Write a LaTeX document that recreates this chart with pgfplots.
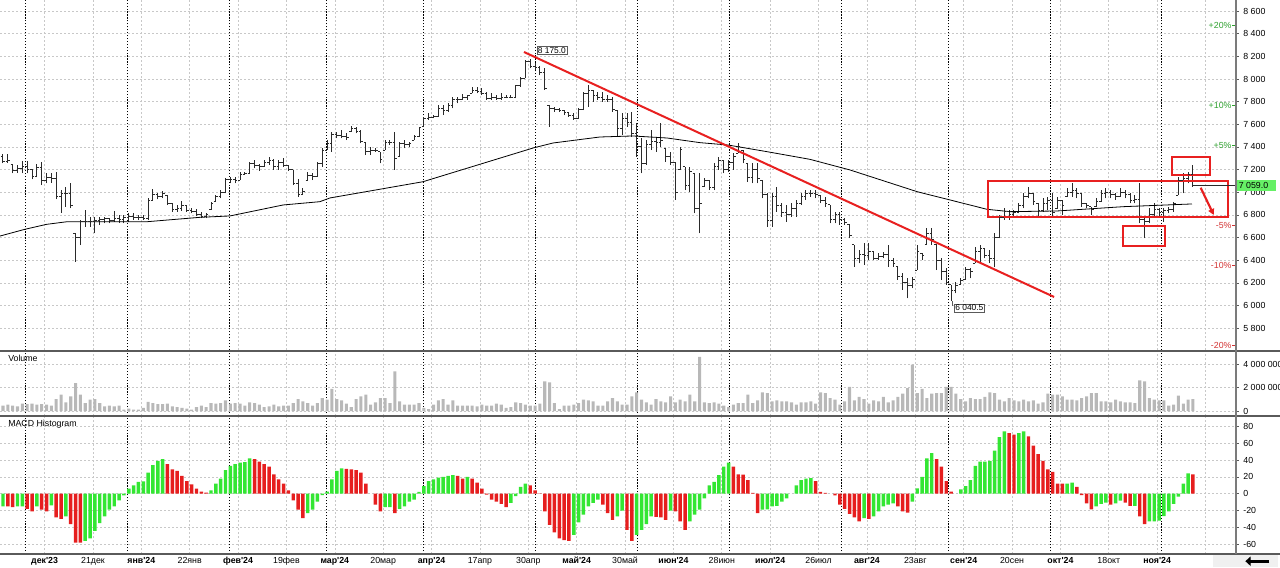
\documentclass[border=0pt]{standalone}
\usepackage{pgfplots}
\pgfplotsset{compat=1.18}
\usepackage{pgfplotstable}
\usepackage{fontspec}
\setmainfont{Liberation Sans}
\usetikzlibrary{arrows.meta}

\definecolor{mgreen}{HTML}{33E633}
\definecolor{mred}{HTML}{E61E1E}
\definecolor{vgray}{HTML}{B8B8B8}
\definecolor{gridc}{HTML}{C8C8C8}
\definecolor{pctg}{HTML}{2EA02E}
\definecolor{pctr}{HTML}{D23232}
\definecolor{trend}{HTML}{E82020}
\definecolor{lastg}{HTML}{66F066}
\definecolor{barc}{HTML}{2A2A2A}
\definecolor{sepc}{HTML}{5A5A5A}

\newcommand{\tf}{\fontsize{6.6}{7.5}\selectfont}
\newcommand{\q}{\textquotesingle}
\newcommand{\pctlabel}[3]{%
  \draw[#3, line width=0.5pt] ([xshift=-3pt]axis cs:254.9,#1) -- (axis cs:254.9,#1);
  \node[text=#3, anchor=east, inner sep=0pt, font=\tf] at ([xshift=-3.2pt]axis cs:254.9,#1) {#2};}

\pgfdeclareplotmark{otick}{\pgfpathmoveto{\pgfqpoint{-1.6pt}{0pt}}\pgfpathlineto{\pgfqpoint{0pt}{0pt}}\pgfusepathqstroke}
\pgfdeclareplotmark{ctick}{\pgfpathmoveto{\pgfqpoint{0pt}{0pt}}\pgfpathlineto{\pgfqpoint{1.6pt}{0pt}}\pgfusepathqstroke}

\pgfplotsset{
  panel/.style={scale only axis, width=927pt, xmin=-0.62, xmax=254.9,
    axis line style={draw=none}, clip=false,
    xtick={8.6,18.6,...,248.6}, xmajorgrids, ymajorgrids,
    grid style={gridc, line width=0.5pt, dash pattern=on 1.5pt off 1.5pt},
    extra x ticks={4.69,25.78,46.79,66.78,86.89,109.99,131.07,150.16,173.39,195.43,216.52,239.41},
    extra x tick labels={},
    extra x tick style={major grid style={black, line width=0.6pt, dash pattern=on 0.9pt off 1.3pt}},
    xtick style={draw=none},
    ytick pos=right, yticklabel pos=right, ytick align=outside,
    major tick length=2pt, ytick style={draw=sepc, line width=0.5pt},
    tick label style={font=\tf},
    /pgf/number format/assume math mode=true,
    /pgf/number format/1000 sep={\ },
  }
}

\pgfplotstableread{
i o h l c
0 7320 7337 7255 7270
1 7270 7337 7261 7280
2 7249 7249 7167 7190
3 7190 7240 7173 7210
4 7210 7279 7167 7230
5 7230 7279 7167 7200
6 7200 7202 7114 7140
7 7140 7249 7131 7220
8 7220 7270 7064 7100
9 7100 7167 7079 7130
10 7130 7167 7084 7120
11 7120 7182 6937 6960
12 6960 7020 6820 6990
13 6990 7049 6873 6990
14 6990 7079 6858 6880
15 6637 6637 6387 6600
16 6600 6755 6534 6740
17 6740 6843 6696 6740
18 6740 6784 6696 6740
19 6740 6784 6637 6750
20 6750 6784 6711 6760
21 6760 6784 6725 6770
22 6770 6770 6725 6750
23 6750 6837 6740 6770
24 6770 6799 6731 6760
25 6760 6799 6725 6780
26 6780 6814 6740 6790
27 6790 6814 6755 6780
28 6780 6799 6755 6780
29 6780 6799 6755 6770
30 6770 6946 6755 6930
31 6931 7026 6931 6980
32 6980 6990 6937 6960
33 6960 7014 6946 6990
34 6976 6976 6887 6900
35 6900 6902 6828 6850
36 6850 6887 6828 6860
37 6860 6926 6837 6880
38 6880 6887 6828 6840
39 6840 6858 6814 6830
40 6830 6849 6790 6800
41 6800 6828 6770 6790
42 6790 6820 6770 6800
43 6844 6917 6844 6900
44 6917 6976 6917 6960
45 6960 7020 6946 7000
46 7000 7123 6991 7110
47 7110 7138 7079 7110
48 7110 7132 7079 7100
49 7108 7182 7108 7160
50 7160 7182 7153 7170
51 7170 7270 7167 7250
52 7250 7285 7211 7240
53 7240 7247 7191 7230
54 7230 7285 7226 7260
55 7260 7308 7241 7280
56 7280 7291 7197 7230
57 7230 7285 7197 7260
58 7260 7300 7226 7240
59 7240 7241 7191 7200
60 7197 7197 7064 7080
61 7080 7114 6961 6980
62 6980 7035 6976 7010
63 7108 7182 7108 7150
64 7150 7167 7108 7140
65 7140 7270 7138 7250
66 7250 7388 7226 7370
67 7373 7461 7373 7430
68 7430 7535 7358 7510
69 7510 7535 7476 7500
70 7500 7550 7476 7490
71 7490 7520 7461 7480
72 7535 7585 7535 7560
73 7560 7579 7520 7540
74 7540 7550 7432 7450
75 7438 7438 7329 7360
76 7360 7403 7329 7370
77 7370 7388 7358 7370
78 7358 7358 7256 7290
79 7373 7461 7373 7440
80 7440 7461 7417 7440
81 7440 7535 7197 7300
82 7314 7447 7314 7430
83 7430 7461 7388 7420
84 7420 7447 7403 7430
85 7461 7506 7461 7490
86 7491 7579 7491 7570
87 7579 7667 7579 7650
88 7650 7697 7638 7660
89 7660 7682 7653 7670
90 7670 7770 7667 7740
91 7740 7770 7682 7720
92 7720 7785 7712 7770
93 7770 7844 7741 7820
94 7820 7844 7785 7820
95 7820 7865 7815 7840
96 7840 7859 7815 7850
97 7873 7932 7873 7900
98 7900 7932 7873 7890
99 7890 7918 7859 7870
100 7870 7888 7815 7830
101 7830 7873 7815 7840
102 7840 7859 7815 7830
103 7830 7873 7815 7840
104 7840 7859 7829 7840
105 7840 7859 7829 7835
106 7835 7947 7829 7940
107 7940 8020 7932 8000
108 8006 8168 8006 8150
109 8150 8175 8094 8110
110 8110 8138 8079 8100
111 8100 8118 8035 8060
112 8060 8094 7903 7920
113 7770 7770 7579 7740
114 7740 7756 7712 7730
115 7730 7741 7712 7725
116 7725 7726 7682 7700
117 7700 7712 7667 7680
118 7680 7697 7638 7650
119 7653 7741 7653 7730
120 7730 7888 7726 7870
121 7870 7947 7756 7900
122 7900 7903 7800 7850
123 7850 7888 7815 7840
124 7840 7888 7800 7820
125 7820 7859 7800 7820
126 7820 7844 7712 7730
127 7726 7726 7491 7560
128 7560 7697 7506 7650
129 7650 7697 7579 7620
130 7620 7712 7491 7520
131 7520 7609 7314 7400
132 7400 7476 7167 7250
133 7250 7461 7241 7420
134 7420 7550 7373 7450
135 7450 7491 7358 7440
136 7440 7609 7403 7460
137 7388 7388 7270 7320
138 7320 7358 7241 7260
139 7260 7270 6932 7000
140 7197 7403 7197 7380
141 7226 7226 7020 7060
142 7060 7226 7005 7180
143 7167 7167 6814 6860
144 6860 7167 6638 6900
145 7050 7123 7050 7100
146 7100 7108 7020 7040
147 7040 7256 7020 7230
148 7230 7314 7197 7280
149 7280 7285 7167 7200
150 7200 7285 7182 7260
151 7260 7344 7197 7320
152 7344 7432 7344 7400
153 7373 7373 7256 7290
154 7256 7256 7094 7130
155 7130 7256 7079 7200
156 7200 7256 7079 7120
157 7108 7108 6947 6980
158 6980 6991 6697 6750
159 6750 6991 6697 6960
160 6960 7050 6829 6880
161 6880 6902 6785 6820
162 6820 6888 6741 6800
163 6800 6902 6785 6860
164 6860 6932 6785 6900
165 6900 6991 6888 6960
166 6960 7020 6932 6990
167 6990 7020 6961 6990
168 6990 7020 6947 6980
169 6976 6976 6903 6930
170 6930 6962 6873 6900
171 6888 6888 6726 6760
172 6760 6829 6726 6800
173 6800 6829 6712 6760
174 6760 6770 6712 6730
175 6712 6712 6594 6620
176 6535 6535 6344 6420
177 6420 6491 6373 6450
178 6450 6550 6359 6440
179 6440 6550 6403 6480
180 6476 6476 6403 6420
181 6420 6462 6403 6430
182 6430 6476 6417 6450
183 6450 6535 6344 6400
184 6400 6417 6344 6370
185 6344 6344 6226 6260
186 6260 6285 6138 6200
187 6200 6241 6064 6180
188 6180 6256 6153 6230
189 6314 6535 6314 6480
190 6462 6462 6403 6440
191 6535 6682 6535 6640
192 6640 6682 6535 6580
193 6535 6535 6314 6400
194 6400 6417 6226 6300
195 6300 6329 6182 6200
196 6182 6182 6040 6130
197 6130 6211 6108 6180
198 6182 6241 6182 6220
199 6226 6344 6226 6320
200 6320 6329 6241 6300
201 6373 6520 6373 6480
202 6480 6535 6388 6500
203 6500 6506 6417 6440
204 6440 6491 6373 6420
205 6420 6640 6340 6600
206 6600 6800 6594 6780
207 6780 6858 6756 6830
208 6830 6844 6756 6800
209 6800 6844 6785 6820
210 6820 6902 6814 6880
211 6880 6991 6858 6960
212 6960 7049 6946 6990
213 6990 6991 6888 6920
214 6902 6902 6785 6840
215 6840 6946 6829 6900
216 6900 6961 6843 6930
217 6930 6991 6785 6820
218 6858 6961 6858 6930
219 6930 6932 6799 6880
220 6961 7035 6961 7000
221 7000 7079 6961 7020
222 7020 7035 6946 6990
223 6990 6991 6873 6900
224 6900 6902 6858 6880
225 6873 6873 6799 6850
226 6873 6946 6873 6920
227 6920 7020 6917 6990
228 6990 7035 6946 7000
229 7000 7020 6946 6980
230 6980 6991 6932 6960
231 6961 7035 6961 7000
232 7000 7020 6946 6980
233 6980 6991 6902 6930
234 6930 6976 6902 6940
235 6940 7079 6726 6760
236 6760 6785 6593 6740
237 6740 6858 6726 6800
238 6800 6902 6785 6850
239 6850 6858 6785 6820
240 6820 6858 6740 6840
241 6840 6873 6814 6850
242 6850 6917 6829 6900
243 6976 7138 6976 7100
244 7100 7167 6991 7120
245 7120 7182 7079 7160
246 7160 7245 7050 7059
}\pricetab

\pgfplotstableread{
i v m g
0 0.46 -15 1
1 0.55 -15 0
2 0.46 -16 0
3 0.40 -15 1
4 0.63 -15 1
5 0.60 -18 0
6 0.63 -21 0
7 0.55 -15 1
8 0.60 -19 0
9 0.55 -21 0
10 0.46 -14 1
11 1.03 -28 0
12 1.41 -30 0
13 0.75 -27 1
14 1.26 -36 0
15 2.41 -58 0
16 1.41 -58 0
17 0.69 -56 1
18 0.98 -53 1
19 1.03 -44 1
20 0.69 -35 1
21 0.40 -27 1
22 0.46 -19 1
23 0.40 -15 1
24 0.46 -8 1
25 0.11 -2 1
26 0.20 6 1
27 0.11 10 1
28 0.11 14 1
29 0.26 14.5 1
30 0.78 25 1
31 0.69 34 1
32 0.60 39 1
33 0.60 41 1
34 0.63 35 0
35 0.40 29 0
36 0.34 27 0
37 0.26 21 0
38 0.20 15 0
39 0.11 11 0
40 0.34 6 0
41 0.46 2.4 0
42 0.34 1.2 0
43 0.69 4 1
44 0.63 12 1
45 0.69 18 1
46 0.92 28 1
47 0.63 33 1
48 0.69 35 1
49 0.63 37 1
50 0.46 37.5 1
51 0.75 42 1
52 0.69 41 0
53 0.55 38 0
54 0.34 35 0
55 0.40 32 0
56 0.55 23 0
57 0.40 17 0
58 0.46 12 0
59 0.46 4 0
60 0.69 -8 0
61 1.03 -19 0
62 0.83 -29 0
63 0.69 -23 1
64 0.46 -19 1
65 0.69 -9.5 1
66 1.12 -1.6 1
67 0.98 2.4 1
68 1.90 17 1
69 1.03 27 1
70 0.92 30 1
71 0.63 29.5 0
72 0.34 29 0
73 1.03 28 0
74 1.26 25 0
75 1.41 12 0
76 0.55 0 2
77 0.75 -13 0
78 1.12 -21 0
79 1.12 -16 1
80 0.69 -16 1
81 3.42 -23 0
82 0.83 -18 1
83 0.55 -15 1
84 0.55 -9.5 1
85 0.55 -7 1
86 0.69 2 1
87 0.26 9 1
88 0.17 15 1
89 0.55 17 1
90 0.92 19 1
91 1.03 20 1
92 0.55 21 1
93 0.92 22 1
94 0.46 21 0
95 0.46 18 0
96 0.46 20 1
97 0.46 18 0
98 0.40 13 0
99 0.55 6 0
100 0.46 -1 0
101 0.46 -7 0
102 0.63 -9.5 0
103 0.55 -12 0
104 0.26 -16 0
105 0.34 -11 1
106 0.75 -3 1
107 0.69 8 1
108 0.55 12 1
109 0.46 10 0
110 0.46 4 0
111 0.63 0.5 0
112 2.56 -21 0
113 2.47 -37 0
114 0.69 -46 0
115 0.17 -53 0
116 0.46 -55 0
117 0.46 -56 0
118 0.55 -49 1
119 0.69 -34 1
120 0.98 -25 1
121 0.92 -15 1
122 0.83 -11 1
123 0.46 -7 1
124 0.46 -13 0
125 0.83 -23 0
126 1.12 -31 0
127 0.83 -27 1
128 0.55 -20 1
129 0.55 -43 0
130 1.26 -56 0
131 1.61 -49 1
132 0.98 -43 1
133 0.75 -36 1
134 0.55 -27 1
135 1.03 -27.5 0
136 0.83 -28 0
137 0.75 -31 0
138 1.26 -20 1
139 0.75 -21 0
140 0.98 -33 0
141 0.83 -43 0
142 1.41 -33 1
143 0.83 -25 1
144 4.66 -19 1
145 0.75 -5.5 1
146 0.69 10 1
147 0.75 14 1
148 0.63 22 1
149 0.46 32 1
150 0.34 37 1
151 0.55 32 0
152 0.69 23 0
153 0.69 22.5 0
154 1.41 16 0
155 0.69 1 0
156 0.92 -23 0
157 1.61 -19 1
158 1.55 -18.5 1
159 0.83 -15 1
160 0.92 -14.5 1
161 0.83 -9.5 1
162 0.83 -5.5 1
163 0.75 0 2
164 0.55 10 1
165 0.75 16 1
166 0.75 18 1
167 0.83 18.5 1
168 0.63 15 0
169 1.61 2 0
170 1.55 1 0
171 1.12 0 2
172 0.98 -2 0
173 0.55 -13 0
174 0.83 -18 0
175 2.07 -24 0
176 0.92 -28 0
177 1.21 -33 0
178 1.03 -29 1
179 0.63 -30 0
180 0.92 -27 1
181 0.83 -21 1
182 1.21 -15 1
183 0.75 -13 1
184 0.92 -11.5 1
185 1.21 -15 0
186 1.49 -21 0
187 1.98 -22.5 0
188 3.99 -9.5 1
189 1.55 6.3 1
190 1.90 20 1
191 1.12 42 1
192 1.49 48 1
193 1.55 41 0
194 1.55 32 0
195 2.07 15 0
196 2.07 2.4 0
197 1.49 0 2
198 1.03 5 1
199 0.83 9 1
200 1.12 16 1
201 1.03 33 1
202 1.03 38 1
203 1.21 38.2 1
204 1.61 39 1
205 1.55 51 1
206 0.98 67 1
207 0.83 74 1
208 1.12 72 0
209 0.92 70 0
210 0.83 72 1
211 0.98 74 1
212 0.83 68 0
213 0.92 57 0
214 0.63 47 0
215 0.75 39 0
216 1.49 29 0
217 1.41 26 0
218 1.41 12 0
219 1.26 11.8 0
220 0.98 12 1
221 0.98 13 1
222 0.92 8 0
223 1.12 -1.6 0
224 1.26 -11.5 0
225 1.55 -18.6 0
226 1.55 -15 1
227 0.83 -12 1
228 0.83 -10.7 1
229 0.75 -13 0
230 0.98 -11.5 1
231 0.83 -8.3 1
232 0.75 -10.7 0
233 0.75 -14.6 0
234 0.69 -14.5 1
235 2.64 -27 0
236 2.56 -36 0
237 1.12 -33 1
238 0.98 -33 1
239 0.92 -32 1
240 0.92 -26.5 1
241 0.46 -21 1
242 0.55 -12 1
243 1.32 -3.6 1
244 0.63 12 1
245 0.98 24 1
246 1.03 23 0
}\voltab

\begin{document}
\begin{tikzpicture}
\useasboundingbox (0pt,0pt) rectangle (960pt,-425.25pt);

% ---------------- price panel
\begin{axis}[panel, at={(0pt,0pt)}, anchor=north west, height=262.5pt,
  ymin=5608, ymax=8697, ytick={5800,6000,...,8600}, xticklabels={}]
\addplot[draw=none, mark=none, error bars/.cd, y dir=plus, y explicit, error mark=none,
  error bar style={draw=barc, line width=0.75pt}]
  table[x=i, y=l, y error expr=\thisrow{h}-\thisrow{l}] {\pricetab};
\addplot[only marks, mark=otick, mark options={barc, line width=0.75pt}] table[x=i, y=o] {\pricetab};
\addplot[only marks, mark=ctick, mark options={barc, line width=0.75pt}] table[x=i, y=c] {\pricetab};
\addplot[black, line width=0.6pt] coordinates {
(-0.6,6614) (4.5,6673) (9,6717) (13.2,6740) (29.7,6740) (40.7,6779) (46.9,6791)
(57.9,6888) (65.5,6917) (67.6,6950) (86.8,7093) (109.6,7391) (113.7,7435)
(123.4,7488) (130.2,7497) (137.3,7479) (144.1,7438) (149.9,7417) (158,7358)
(166.8,7291) (175.1,7197) (189,7005) (195.8,6932) (203.4,6850) (208.2,6829)
(217.9,6835) (231.6,6873) (245.8,6897)};
% trend line
\draw[trend, line width=1.5pt] (axis cs:107.7,8238) -- (axis cs:217.3,6076);
% boxes
\draw[trend, line width=1.5pt] (axis cs:203.6,7100) rectangle (axis cs:253.3,6782);
\draw[trend, line width=1.8pt] (axis cs:241.7,7311) rectangle (axis cs:249.5,7153);
\draw[trend, line width=1.8pt] (axis cs:231.5,6702) rectangle (axis cs:240.2,6526);
\draw[trend, line width=1.6pt, -{Triangle[length=4.5pt, width=4.5pt]}] (axis cs:247.6,7040) -- (axis cs:250.3,6800);
% price labels
\node[draw=sepc, fill=white, inner sep=0.8pt, anchor=west, font=\fontsize{6.3}{7}\selectfont] at (axis cs:110.3,8253) {8 175.0};
\draw[sepc, line width=0.4pt] (axis cs:196.2,6040) -- (axis cs:196.2,5995);
\node[draw=sepc, fill=white, inner sep=0.8pt, anchor=west, font=\fontsize{6.3}{7}\selectfont] at (axis cs:196.6,5979) {6 040.5};
% last price
\draw[barc, line width=0.5pt] (axis cs:246.3,7059) -- (axis cs:254.9,7059);
\node[fill=lastg, inner sep=0.6pt, anchor=west, minimum width=29.5pt, minimum height=8pt, font=\tf] at (axis cs:254.9,7059) {7 059.0\hphantom{0}};
% percent labels
\pctlabel{8471}{+20\%}{pctg}
\pctlabel{7765}{+10\%}{pctg}
\pctlabel{7412}{+5\%}{pctg}
\pctlabel{6706}{-5\%}{pctr}
\pctlabel{6353}{-10\%}{pctr}
\pctlabel{5647}{-20\%}{pctr}
\end{axis}

% ---------------- volume panel
\begin{axis}[panel, at={(0pt,-263.25pt)}, anchor=north west, height=48.75pt,
  ymin=-0.43, ymax=5.17, ytick={0,2,4}, yticklabels={0,2 000 000,4 000 000}, xticklabels={}]
\addplot[ybar, bar width=2.3pt, bar shift=0pt, fill=vgray, draw=none] table[x=i, y=v] {\voltab};
\end{axis}

% ---------------- MACD panel
\begin{axis}[panel, at={(0pt,-312pt)}, anchor=north west, height=103.5pt,
  ymin=-71.6, ymax=92.2, ytick={-60,-40,...,80},
  xticklabels={\textbf{дек\q23}, 21дек, \textbf{янв\q24}, 22янв, \textbf{фев\q24}, 19фев, \textbf{мар\q24}, 20мар, \textbf{апр\q24}, 17апр, 30апр, \textbf{май\q24}, 30май, \textbf{июн\q24}, 28июн, \textbf{июл\q24}, 26июл, \textbf{авг\q24}, 23авг, \textbf{сен\q24}, 20сен, \textbf{окт\q24}, 18окт, \textbf{ноя\q24}, {}},
  xticklabel style={yshift=1pt}]
\addplot[ybar, bar width=2.6pt, bar shift=0pt, fill=mgreen, draw=none, restrict expr to domain={\thisrow{g}}{0.5:1.5}] table[x=i, y=m] {\voltab};
\addplot[ybar, bar width=2.6pt, bar shift=0pt, fill=mred, draw=none, restrict expr to domain={\thisrow{g}}{-0.5:0.5}] table[x=i, y=m] {\voltab};
\end{axis}

% ---------------- frame lines and panel titles
\draw[sepc, line width=1.2pt] (0pt,-263.25pt) -- (960pt,-263.25pt);
\draw[sepc, line width=1.2pt] (0pt,-312pt) -- (960pt,-312pt);
\draw[sepc, line width=0.9pt] (0pt,-415.5pt) -- (960pt,-415.5pt);
\draw[sepc!80, line width=0.9pt] (927pt,0pt) -- (927pt,-415.5pt);
\node[anchor=west, inner sep=0pt, font=\tf] at (6pt,-268.5pt) {Volume};
\node[anchor=west, inner sep=0pt, font=\tf] at (6pt,-318pt) {MACD Histogram};
% scroll button
\fill[gray!12] (910pt,-416.5pt) rectangle (958.5pt,-425.25pt);
\draw[black, line width=2.4pt, -{Triangle[length=4pt, width=7pt]}] (952pt,-420.9pt) -- (934pt,-420.9pt);
\end{tikzpicture}
\end{document}
